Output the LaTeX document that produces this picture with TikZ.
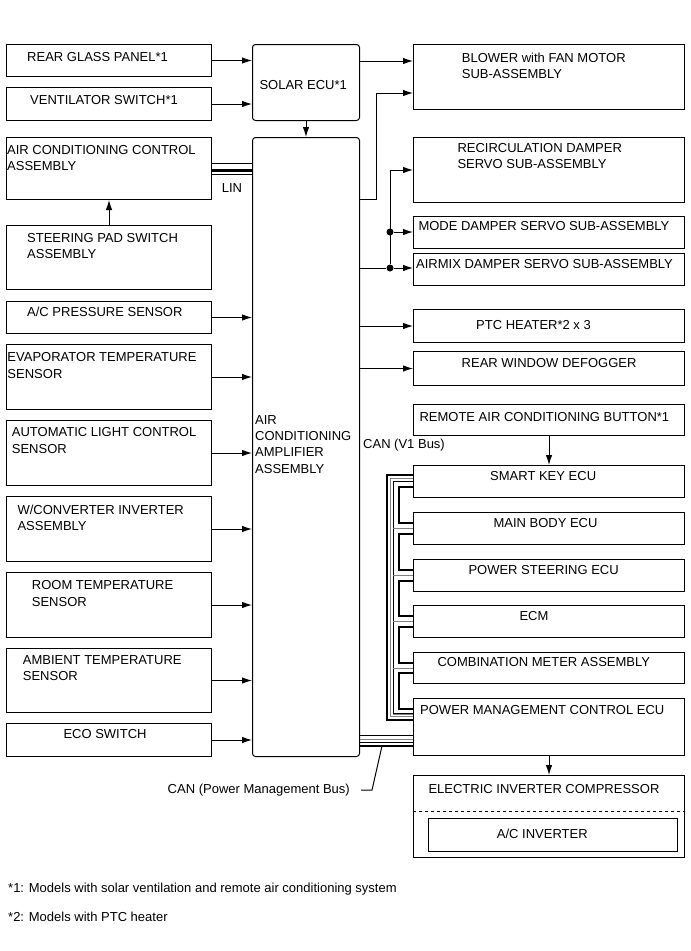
\documentclass[tikz,border=0pt]{standalone}
\usepackage{fontspec}
\setmainfont{Liberation Sans}
\usetikzlibrary{arrows.meta, math}

\begin{document}
\begin{tikzpicture}[x=1pt, y=-1pt,
  blk/.style={draw, line width=1pt, anchor=north west, inner sep=0pt},
  ecu/.style={blk, rounded corners=3pt},
  txt/.style={anchor=north west, inner sep=0pt, align=left, font=\fontsize{13}{16.3}\selectfont},
  sig/.style={line width=1pt, -{Latex[length=10pt, width=6.5pt]}},
  wire/.style={line width=1pt},
  jdot/.style={circle, fill, inner sep=0pt, minimum size=7pt}]
\tikzmath{
\lx=6;
\lw=205;
\rx=413;
\rw=271;
}
\useasboundingbox (0,0) rectangle (691,951);

% left column
\node[blk, minimum width=\lw, minimum height=32] (rear) at (\lx,44) {};
\node[blk, minimum width=\lw, minimum height=33] (vent) at (\lx,87) {};
\node[blk, minimum width=\lw, minimum height=62] (acctrl) at (\lx,137) {};
\node[blk, minimum width=\lw, minimum height=64] (steer) at (\lx,225) {};
\node[blk, minimum width=\lw, minimum height=32] (pres) at (\lx,301) {};
\node[blk, minimum width=\lw, minimum height=65] (evap) at (\lx,344) {};
\node[blk, minimum width=\lw, minimum height=65] (light) at (\lx,420) {};
\node[blk, minimum width=\lw, minimum height=65] (conv) at (\lx,496) {};
\node[blk, minimum width=\lw, minimum height=65] (room) at (\lx,572) {};
\node[blk, minimum width=\lw, minimum height=64] (amb) at (\lx,648) {};
\node[blk, minimum width=\lw, minimum height=33] (eco) at (\lx,723) {};

\node[txt] (rear-t) at (27,52.5) {REAR GLASS PANEL*1};
\node[txt] (vent-t) at (30,95.7) {VENTILATOR SWITCH*1};
\node[txt] (acctrl-t) at (7,145) {AIR CONDITIONING CONTROL\\ASSEMBLY};
\node[txt] (steer-t) at (27,233.3) {STEERING PAD SWITCH\\ASSEMBLY};
\node[txt] (pres-t) at (27,306.7) {A/C PRESSURE SENSOR};
\node[txt] (evap-t) at (7.3,352.7) {EVAPORATOR TEMPERATURE\\SENSOR};
\node[txt] (light-t) at (11.7,427.7) {AUTOMATIC LIGHT CONTROL\\SENSOR};
\node[txt] (conv-t) at (17.3,505) {W/CONVERTER INVERTER\\ASSEMBLY};
\node[txt] (room-t) at (31.7,580.7) {ROOM TEMPERATURE\\SENSOR};
\node[txt] (amb-t) at (22.7,655) {AMBIENT TEMPERATURE\\SENSOR};
\node[txt] (eco-t) at (63.3,729.3) {ECO SWITCH};

% middle
\node[ecu, minimum width=107, minimum height=76] (solar) at (252,44) {};
\node[ecu, minimum width=107, minimum height=619] (amp) at (252,137) {};
\node[txt] (solar-t) at (259.3,80) {SOLAR ECU*1};
\node[txt] (amp-t) at (255,415) {AIR\\CONDITIONING\\AMPLIFIER\\ASSEMBLY};

% right column
\node[blk, minimum width=\rw, minimum height=65] (blower) at (\rx,44) {};
\node[blk, minimum width=\rw, minimum height=65] (recirc) at (\rx,137) {};
\node[blk, minimum width=\rw, minimum height=32] (mode) at (\rx,216) {};
\node[blk, minimum width=\rw, minimum height=32] (airmix) at (\rx,253) {};
\node[blk, minimum width=\rw, minimum height=33] (ptc) at (\rx,309) {};
\node[blk, minimum width=\rw, minimum height=34] (defog) at (\rx,351) {};
\node[blk, minimum width=\rw, minimum height=31] (remote) at (\rx,404) {};
\node[blk, minimum width=\rw, minimum height=32] (smart) at (\rx,465) {};
\node[blk, minimum width=\rw, minimum height=32] (body) at (\rx,512) {};
\node[blk, minimum width=\rw, minimum height=32] (psecu) at (\rx,559) {};
\node[blk, minimum width=\rw, minimum height=32] (ecm) at (\rx,605) {};
\node[blk, minimum width=\rw, minimum height=31] (meter) at (\rx,652) {};
\node[blk, minimum width=\rw, minimum height=57] (pmecu) at (\rx,698) {};
\node[blk, minimum width=\rw, minimum height=82] (comp) at (\rx,775) {};
\node[blk, minimum width=249, minimum height=33] (inv) at (428,818) {};
\draw[dashed, line width=0.8pt] (comp.west |- 0,811) -- (comp.east |- 0,811);

\node[txt] (blower-t) at (461.7,52.7) {BLOWER with FAN MOTOR\\SUB-ASSEMBLY};
\node[txt] (recirc-t) at (457.3,143.3) {RECIRCULATION DAMPER\\SERVO SUB-ASSEMBLY};
\node[txt] (mode-t) at (418.3,221.7) {MODE DAMPER SERVO SUB-ASSEMBLY};
\node[txt] (airmix-t) at (416,259.3) {AIRMIX DAMPER SERVO SUB-ASSEMBLY};
\node[txt] (ptc-t) at (476,320) {PTC HEATER*2 x 3};
\node[txt] (defog-t) at (461.5,358.3) {REAR WINDOW DEFOGGER};
\node[txt] (remote-t) at (419.3,412.7) {REMOTE AIR CONDITIONING BUTTON*1};
\node[txt] (smart-t) at (490,471) {SMART KEY ECU};
\node[txt] (body-t) at (493.3,518.3) {MAIN BODY ECU};
\node[txt] (psecu-t) at (468.3,565.7) {POWER STEERING ECU};
\node[txt] (ecm-t) at (519.3,611.7) {ECM};
\node[txt] (meter-t) at (437.3,657.7) {COMBINATION METER ASSEMBLY};
\node[txt] (pmecu-t) at (420,705) {POWER MANAGEMENT CONTROL ECU};
\node[txt] (comp-t) at (428.3,784.3) {ELECTRIC INVERTER COMPRESSOR};
\node[txt] (inv-t) at (496.7,829.3) {A/C INVERTER};

% inputs
\draw[sig] (rear.east) -- (solar.west |- rear.east);
\draw[sig] (vent.east) -- (solar.west |- vent.east);
\draw[sig] (solar.south) -- (amp.north);
\draw[sig] (steer.north) -- (acctrl.south);
\foreach \n in {pres,evap,light,conv,room,amb,eco}
  \draw[sig] (\n.east) -- (amp.west |- \n.east);

% LIN
\draw[line width=0.8pt] (acctrl.east |- 0,163.5) -- (amp.west |- 0,163.5);
\draw[line width=3pt] (acctrl.east |- 0,170) -- (amp.west |- 0,170);
\draw[line width=0.8pt] (acctrl.east |- 0,174.5) -- (amp.west |- 0,174.5);
\node[txt] (lin-t) at (221.7,183.3) {LIN};

% outputs
\draw[sig] (solar.east |- 0,61) -- (blower.west |- 0,61);
\coordinate (blbend) at (376,93);
\draw[sig] (amp.east |- 0,199) -| (blbend) -- (blower.west |- blbend);
\node[jdot] (d1) at (390,268) {};
\node[jdot] (d2) at (390,232) {};
\draw[wire] (amp.east |- d1) -- (d1);
\draw[sig] (d1) -- (airmix.west |- d1);
\draw[sig] (d2) -- (mode.west |- d2);
\draw[sig] (d1) -- (d2 |- recirc.west) -- (recirc.west);
\foreach \n in {ptc,defog}
  \draw[sig] (amp.east |- \n.west) -- (\n.west);
\draw[sig] (remote.south) -- (smart.north);
\draw[sig] (pmecu.south) -- (comp.north);

% CAN (V1 Bus)
\node[txt] (canv1-t) at (363,439.3) {CAN (V1 Bus)};
\draw[line width=1.4pt] (smart.west |- 0,475) -| (387,720) -- (pmecu.west |- 0,720);
\draw[line width=0.8pt, gray] (smart.west |- 0,478.5) -| (390.5,716.5) -- (pmecu.west |- 0,716.5);
\draw[line width=0.6pt] (smart.west |- 0,481.5) -| (393.5,713.5) -- (pmecu.west |- 0,713.5);
\foreach \a/\b in {smart/body,body/psecu,psecu/ecm,ecm/meter,meter/pmecu}{
  \draw[line width=1.6pt] ([yshift=11pt]\a.south west) -- ++(-14,0) |- ([yshift=-11pt]\b.north west);
  \draw[line width=0.8pt, gray] ([yshift=-16pt]\b.north west) -- ++(-20,0);
}

% CAN (Power Management Bus)
\foreach \yy/\lwd/\col in {735.5/1.4pt/black, 739/0.8pt/gray, 742/0.6pt/black, 746/1.4pt/black}
  \draw[line width=\lwd, \col] (amp.east |- 0,\yy) -- (pmecu.west |- 0,\yy);
\coordinate (pmtick) at (382,746);
\node[txt, anchor=east] (pmlab) at (350,790) {CAN (Power Management Bus)};
\draw[wire] (pmtick) -- (372,790) -- ([xshift=11pt]pmlab.east);

% notes
\node[txt] (note1) at (8,882.7) {*1: Models with solar ventilation and remote air conditioning system};
\node[txt] (note2) at (8,911.7) {*2: Models with PTC heater};
\end{tikzpicture}
\end{document}
